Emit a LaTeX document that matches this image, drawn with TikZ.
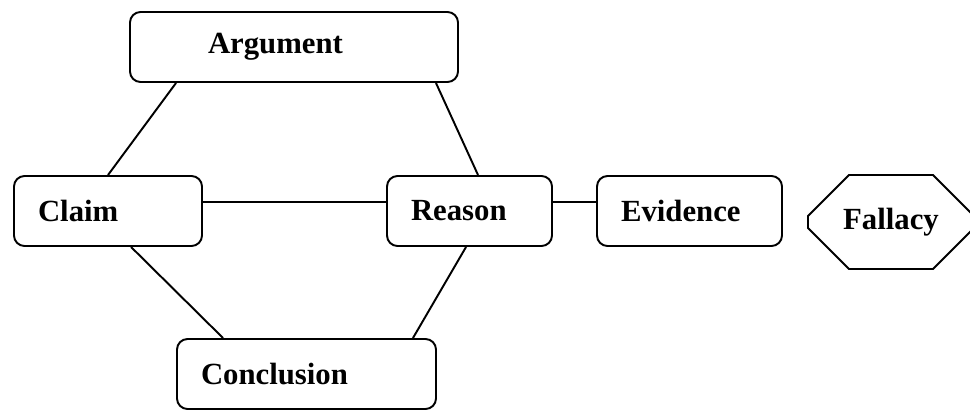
\documentclass[tikz,border=0pt]{standalone}
\usepackage{fontspec}
\setmainfont{Liberation Serif}
\usepackage{tikz}
\usetikzlibrary{positioning, shapes.misc}

\begin{document}
\begin{tikzpicture}[box/.style={draw, line width=1.1pt, rounded corners=6pt, minimum height=1.4cm, align=left, inner xsep=0.48cm, font=\fontsize{17.5}{21}\selectfont\bfseries},
                    stop/.style={draw, line width=1.1pt, chamfered rectangle, chamfered rectangle xsep=0.58cm, chamfered rectangle ysep=0.54cm, minimum width=3.32cm, minimum height=1.88cm, inner sep=0pt, font=\fontsize{17.5}{21}\selectfont\bfseries},
                    link/.style={line width=1.1pt}]
        \useasboundingbox (0,0) rectangle (19.4,-8.2);
        \node[box, text width=3.44cm, inner xsep=1.56cm, xshift=5.88cm, yshift=-0.94cm] (arg) {Argument};
        \node[box, text width=2.8cm, xshift=2.16cm, yshift=-4.22cm] (claim) {Claim};
        \node[box, text width=2.34cm, xshift=9.39cm, yshift=-4.22cm] (reason) {Reason};
        \node[box, text width=2.74cm, xshift=13.79cm, yshift=-4.22cm] (evid) {Evidence};
        \node[box, text width=4.22cm, xshift=6.13cm, yshift=-7.48cm] (concl) {Conclusion};
        \node[stop, xshift=17.82cm, yshift=-4.44cm] (fall) {Fallacy};

        \draw[link] ([xshift=0.94cm]arg.south west) edge (claim.north);
        \draw[link] ([xshift=-0.46cm]arg.south east) edge ([xshift=1.84cm]reason.north west);
        \draw[link] ([yshift=0.18cm]claim.east) edge ([yshift=0.18cm]reason.west);
        \draw[link] ([yshift=0.18cm]reason.east) edge ([yshift=0.18cm]evid.west);
        \draw[link] ([xshift=2.36cm]claim.south west) edge ([xshift=0.94cm]concl.north west);
        \draw[link] ([xshift=1.6cm]reason.south west) edge ([xshift=-0.48cm]concl.north east);
\end{tikzpicture}
\end{document}
